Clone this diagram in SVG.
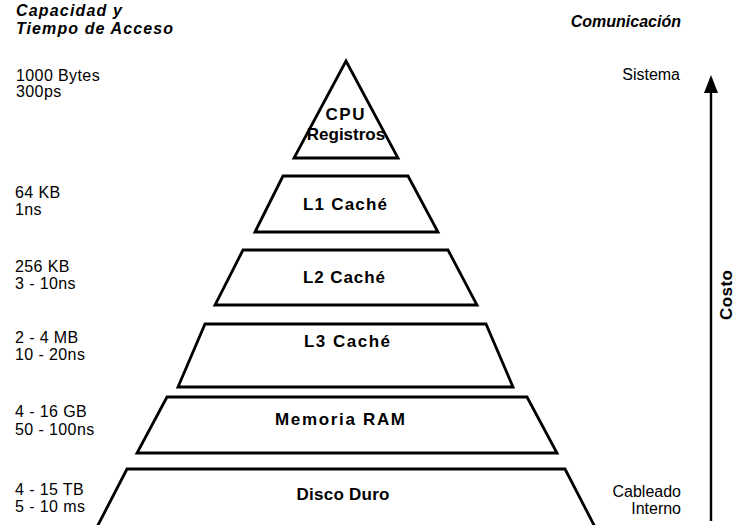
<svg xmlns="http://www.w3.org/2000/svg" width="735" height="525" viewBox="0 0 735 525">
  <style>
    .lvl { fill: #ffffff; stroke: #000000; stroke-width: 2.8; stroke-linejoin: miter; }
    .name { font-family: "Liberation Sans", Arial, sans-serif; font-weight: bold; font-size: 17px; fill: #000; text-anchor: middle; }
    .side { font-family: "Liberation Sans", Arial, sans-serif; font-size: 16px; letter-spacing: 0.4px; fill: #000; }
    .head { font-family: "Liberation Sans", Arial, sans-serif; font-weight: bold; font-style: italic; font-size: 16px; fill: #000; }
    .right { text-anchor: end; letter-spacing: 0; }
  </style>

  <rect width="735" height="525" fill="#ffffff"/>

  <!-- column headings -->
  <text class="head" x="16" y="16" textLength="106" lengthAdjust="spacing">Capacidad y</text>
  <text class="head" x="16" y="34" textLength="157" lengthAdjust="spacing">Tiempo de Acceso</text>
  <text class="head right" x="681" y="27">Comunicación</text>

  <!-- pyramid levels -->
  <g id="cpu">
    <polygon class="lvl" points="346,61 398,158 294,158"/>
    <text class="name" x="345" y="120" font-size="16" textLength="39" lengthAdjust="spacing">CPU</text>
    <text class="name" x="346" y="140" font-size="13">Registros</text>
  </g>
  <g id="l1">
    <polygon class="lvl" points="283,176 408,176 438,232 255,232"/>
    <text class="name" x="345" y="210" textLength="84" lengthAdjust="spacing">L1 Caché</text>
  </g>
  <g id="l2">
    <polygon class="lvl" points="243,250 448,250 477,305 215,305"/>
    <text class="name" x="344" y="283" textLength="82" lengthAdjust="spacing">L2 Caché</text>
  </g>
  <g id="l3">
    <polygon class="lvl" points="205,324 486,324 513,387 178,387"/>
    <text class="name" x="347" y="347" textLength="86" lengthAdjust="spacing">L3 Caché</text>
  </g>
  <g id="ram">
    <polygon class="lvl" points="167,397 527,397 557,453 137,453"/>
    <text class="name" x="340" y="425" textLength="130" lengthAdjust="spacing">Memoria RAM</text>
  </g>
  <g id="disco">
    <polygon class="lvl" points="127,469 565,469 595,527 97,527"/>
    <text class="name" x="343" y="500" textLength="93" lengthAdjust="spacing">Disco Duro</text>
  </g>

  <!-- capacity and access time -->
  <g id="capacidad">
    <text class="side" x="16" y="81">1000 Bytes</text>
    <text class="side" x="16" y="97">300ps</text>
    <text class="side" x="15" y="198">64 KB</text>
    <text class="side" x="15" y="215">1ns</text>
    <text class="side" x="15" y="272">256 KB</text>
    <text class="side" x="15" y="289">3 - 10ns</text>
    <text class="side" x="15" y="343">2 - 4 MB</text>
    <text class="side" x="15" y="360">10 - 20ns</text>
    <text class="side" x="15" y="417">4 - 16 GB</text>
    <text class="side" x="15" y="435">50 - 100ns</text>
    <text class="side" x="15" y="495">4 - 15 TB</text>
    <text class="side" x="15" y="512">5 - 10 ms</text>
  </g>

  <!-- communication -->
  <g id="comunicacion">
    <text class="side right" x="680" y="80">Sistema</text>
    <text class="side right" x="681" y="497">Cableado</text>
    <text class="side right" x="681" y="514">Interno</text>
  </g>

  <!-- cost axis -->
  <g id="costo">
    <line x1="711" y1="521" x2="711" y2="90" stroke="#000" stroke-width="2.4"/>
    <polygon points="711,75 704,93 718,93" fill="#000"/>
    <text class="name" transform="translate(732,295) rotate(-90)" x="0" y="0" font-size="15" textLength="50" lengthAdjust="spacing">Costo</text>
  </g>
</svg>
